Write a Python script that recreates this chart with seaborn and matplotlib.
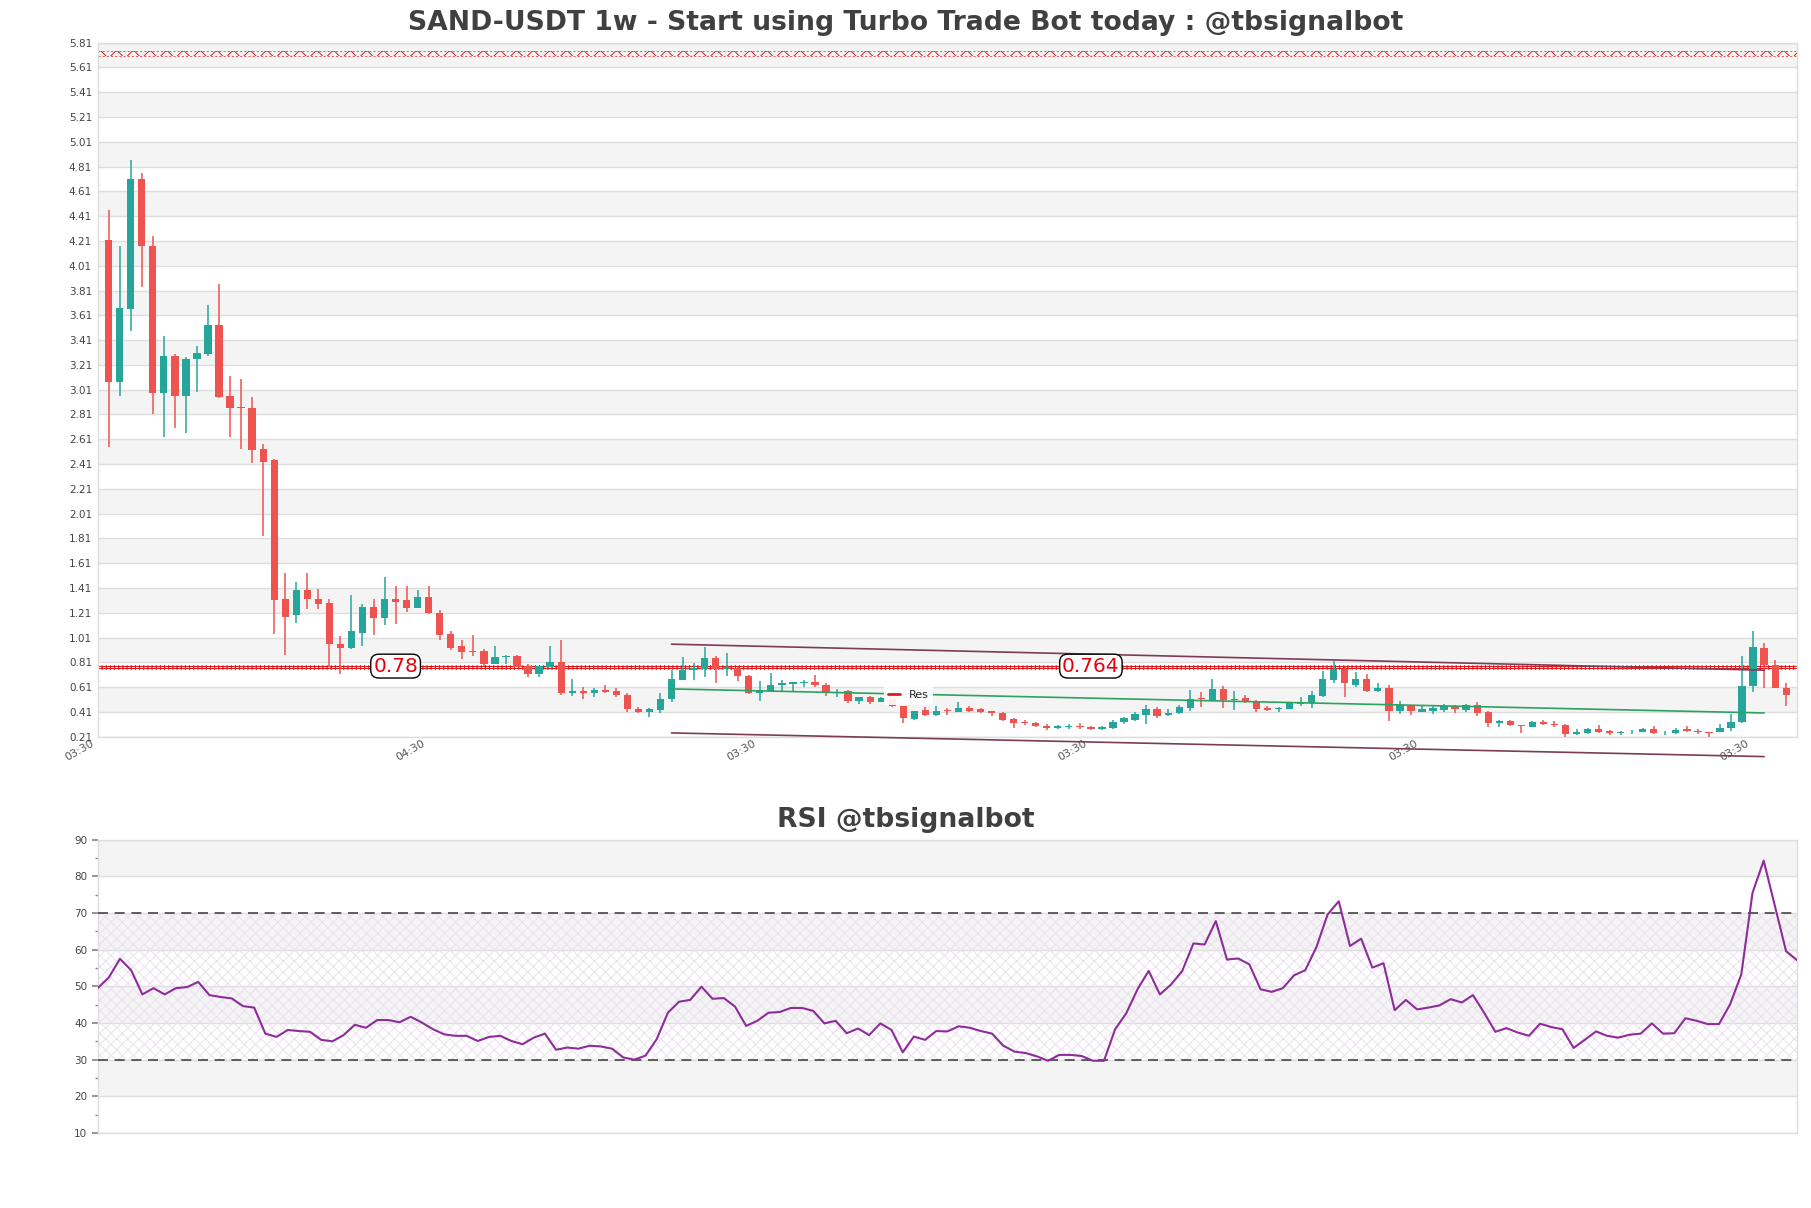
import matplotlib
matplotlib.use("Agg")
import numpy as np
import pandas as pd
import seaborn as sns
import matplotlib.pyplot as plt
import matplotlib.transforms as mtransforms
from matplotlib.lines import Line2D

# ---------------- data ----------------
opens = [4.22, 3.075, 3.66, 4.71, 4.17, 2.98, 3.28, 2.96, 3.26, 3.30,
         3.53, 2.96, 2.87, 2.86, 2.53, 2.44, 1.32, 1.19, 1.39, 1.32,
         1.29, 0.96, 0.93, 1.05, 1.26, 1.17, 1.32, 1.31, 1.25, 1.34,
         1.21, 1.04, 0.94, 0.90, 0.90, 0.80, 0.85, 0.86, 0.78, 0.72,
         0.77, 0.81, 0.564, 0.583, 0.564, 0.59, 0.583, 0.55, 0.437, 0.41,
         0.427, 0.515, 0.671, 0.749, 0.757, 0.846, 0.757, 0.765, 0.703, 0.564,
         0.577, 0.63, 0.636, 0.644, 0.655, 0.63, 0.564, 0.583, 0.502, 0.534,
         0.488, 0.52, 0.461, 0.354, 0.427, 0.389, 0.427, 0.413, 0.44, 0.432,
         0.416, 0.402, 0.354, 0.327, 0.319, 0.30, 0.282, 0.292, 0.30, 0.292,
         0.273, 0.279, 0.33, 0.349, 0.389, 0.435, 0.384, 0.40, 0.443, 0.523,
         0.51, 0.599, 0.51, 0.52, 0.502, 0.443, 0.435, 0.435, 0.475, 0.48,
         0.542, 0.671, 0.757, 0.628, 0.677, 0.582, 0.604, 0.421, 0.461, 0.413,
         0.421, 0.427, 0.456, 0.427, 0.47, 0.408, 0.322, 0.335, 0.308, 0.292,
         0.332, 0.313, 0.308, 0.233, 0.241, 0.27, 0.254, 0.241, 0.246, 0.252,
         0.273, 0.246, 0.241, 0.273, 0.26, 0.252, 0.246, 0.279, 0.327, 0.617,
         0.926, 0.789, 0.604]
highs = [4.46, 4.17, 4.86, 4.76, 4.25, 3.44, 3.30, 3.27, 3.36, 3.69,
         3.86, 3.12, 3.10, 2.95, 2.57, 2.45, 1.53, 1.46, 1.53, 1.40,
         1.32, 1.02, 1.35, 1.28, 1.32, 1.50, 1.43, 1.43, 1.39, 1.43,
         1.23, 1.06, 0.99, 1.03, 0.92, 0.94, 0.87, 0.87, 0.80, 0.78,
         0.94, 0.99, 0.677, 0.61, 0.60, 0.63, 0.60, 0.561, 0.453, 0.443,
         0.561, 0.75, 0.851, 0.806, 0.937, 0.859, 0.889, 0.77, 0.71, 0.663,
         0.725, 0.671, 0.652, 0.671, 0.709, 0.64, 0.596, 0.59, 0.534, 0.54,
         0.53, 0.53, 0.461, 0.421, 0.448, 0.461, 0.44, 0.488, 0.461, 0.44,
         0.421, 0.408, 0.36, 0.349, 0.327, 0.314, 0.306, 0.314, 0.322, 0.298,
         0.30, 0.346, 0.367, 0.408, 0.467, 0.453, 0.435, 0.467, 0.59, 0.569,
         0.677, 0.623, 0.582, 0.55, 0.507, 0.461, 0.448, 0.488, 0.529, 0.582,
         0.744, 0.824, 0.77, 0.736, 0.717, 0.644, 0.628, 0.502, 0.467, 0.467,
         0.461, 0.475, 0.47, 0.475, 0.488, 0.416, 0.346, 0.346, 0.308, 0.341,
         0.348, 0.335, 0.313, 0.273, 0.279, 0.305, 0.265, 0.26, 0.268, 0.281,
         0.30, 0.26, 0.279, 0.295, 0.273, 0.252, 0.313, 0.39, 0.864, 1.066,
         0.967, 0.83, 0.641]
lows = [2.55, 2.96, 3.48, 3.84, 2.81, 2.63, 2.70, 2.66, 2.99, 3.28,
        2.94, 2.63, 2.53, 2.42, 1.83, 1.04, 0.87, 1.13, 1.24, 1.24,
        0.77, 0.72, 0.92, 0.94, 1.03, 1.11, 1.12, 1.22, 1.25, 1.20,
        0.99, 0.91, 0.84, 0.86, 0.78, 0.80, 0.80, 0.77, 0.69, 0.69,
        0.77, 0.55, 0.537, 0.513, 0.53, 0.564, 0.53, 0.408, 0.40, 0.367,
        0.40, 0.488, 0.669, 0.671, 0.69, 0.642, 0.70, 0.663, 0.556, 0.496,
        0.569, 0.569, 0.582, 0.61, 0.61, 0.537, 0.534, 0.48, 0.475, 0.475,
        0.488, 0.45, 0.322, 0.349, 0.375, 0.375, 0.389, 0.408, 0.413, 0.402,
        0.381, 0.341, 0.279, 0.306, 0.292, 0.268, 0.276, 0.276, 0.276, 0.268,
        0.265, 0.271, 0.314, 0.341, 0.314, 0.359, 0.381, 0.392, 0.421, 0.448,
        0.502, 0.44, 0.427, 0.48, 0.408, 0.421, 0.408, 0.435, 0.461, 0.44,
        0.529, 0.642, 0.534, 0.61, 0.574, 0.574, 0.341, 0.394, 0.389, 0.408,
        0.394, 0.413, 0.402, 0.413, 0.375, 0.287, 0.292, 0.30, 0.238, 0.287,
        0.308, 0.287, 0.206, 0.225, 0.233, 0.241, 0.225, 0.225, 0.233, 0.246,
        0.233, 0.228, 0.233, 0.246, 0.233, 0.211, 0.246, 0.26, 0.319, 0.574,
        0.601, 0.601, 0.461]
closes = [3.075, 3.67, 4.71, 4.17, 2.98, 3.28, 2.96, 3.26, 3.31, 3.53,
          2.95, 2.86, 2.86, 2.52, 2.43, 1.31, 1.18, 1.39, 1.32, 1.28,
          0.96, 0.93, 1.06, 1.26, 1.17, 1.32, 1.30, 1.25, 1.34, 1.21,
          1.03, 0.93, 0.89, 0.89, 0.80, 0.85, 0.86, 0.77, 0.72, 0.78,
          0.81, 0.56, 0.583, 0.564, 0.588, 0.574, 0.548, 0.43, 0.408, 0.43,
          0.515, 0.677, 0.749, 0.763, 0.846, 0.757, 0.77, 0.698, 0.561, 0.583,
          0.63, 0.644, 0.652, 0.65, 0.628, 0.574, 0.572, 0.502, 0.534, 0.488,
          0.523, 0.46, 0.359, 0.421, 0.389, 0.421, 0.416, 0.44, 0.421, 0.408,
          0.402, 0.349, 0.322, 0.319, 0.298, 0.279, 0.30, 0.298, 0.287, 0.273,
          0.287, 0.332, 0.36, 0.394, 0.435, 0.381, 0.402, 0.448, 0.515, 0.512,
          0.599, 0.51, 0.515, 0.494, 0.437, 0.427, 0.443, 0.483, 0.488, 0.55,
          0.677, 0.757, 0.642, 0.677, 0.582, 0.604, 0.421, 0.467, 0.416, 0.435,
          0.443, 0.461, 0.432, 0.47, 0.40, 0.322, 0.335, 0.306, 0.298, 0.332,
          0.313, 0.305, 0.233, 0.252, 0.27, 0.246, 0.241, 0.252, 0.252, 0.276,
          0.238, 0.25, 0.268, 0.254, 0.246, 0.244, 0.284, 0.332, 0.622, 0.937,
          0.79, 0.601, 0.55]
rsi = [49.5, 52.4, 57.5, 54.4, 47.8, 49.5, 47.8, 49.5, 49.8, 51.2,
       47.6, 47.1, 46.7, 44.6, 44.2, 37.1, 36.2, 38.1, 37.8, 37.6,
       35.4, 35.0, 36.7, 39.5, 38.7, 40.8, 40.8, 40.2, 41.7, 40.1,
       38.3, 36.9, 36.5, 36.5, 35.1, 36.2, 36.5, 35.1, 34.2, 36.0,
       37.1, 32.7, 33.3, 33.0, 33.8, 33.6, 33.0, 30.6, 30.0, 31.1,
       35.6, 42.8, 45.8, 46.3, 49.9, 46.6, 46.8, 44.5, 39.2, 40.6,
       42.8, 43.0, 44.1, 44.1, 43.3, 39.9, 40.6, 37.2, 38.5, 36.7,
       39.9, 38.1, 32.0, 36.3, 35.4, 37.8, 37.7, 39.1, 38.7, 37.8,
       37.1, 33.8, 32.2, 31.8, 30.9, 29.7, 31.3, 31.3, 31.0, 29.7,
       29.7, 38.3, 42.7, 49.2, 54.2, 47.8, 50.5, 54.2, 61.7, 61.4,
       67.8, 57.3, 57.6, 56.0, 49.2, 48.5, 49.5, 53.0, 54.4, 60.7,
       69.6, 73.2, 61.0, 63.0, 55.1, 56.3, 43.5, 46.3, 43.7, 44.2,
       44.8, 46.5, 45.6, 47.6, 42.8, 37.6, 38.6, 37.4, 36.5, 39.8,
       38.9, 38.3, 33.2, 35.4, 37.7, 36.5, 36.0, 36.8, 37.1, 39.9,
       37.1, 37.2, 41.3, 40.6, 39.7, 39.7, 45.1, 53.3, 75.5, 84.3,
       71.9, 59.6, 57.1]

price_ticks = [0.21, 0.41, 0.61, 0.81, 1.01, 1.21, 1.41, 1.61, 1.81, 2.01, 2.21,
               2.41, 2.61, 2.81, 3.01, 3.21, 3.41, 3.61, 3.81, 4.01, 4.21, 4.41,
               4.61, 4.81, 5.01, 5.21, 5.41, 5.61, 5.81]
x_tick_pos = [-1, 29, 59, 89, 119, 149]
x_tick_labels = ["03:30", "04:30", "03:30", "03:30", "03:30", "03:30"]
rsi_ticks = [10, 20, 30, 40, 50, 60, 70, 80, 90]

res_top = 5.722
res_levels = [0.78, 0.764]
res_labels = ["0.78", "0.764"]
res_label_pos = [26, 89]
chan_x = [51, 150]
chan_upper = [0.957, 0.747]
chan_lower = [0.241, 0.050]
chan_mid = [0.596, 0.402]

title = "SAND-USDT 1w - Start using Turbo Trade Bot today : @tbsignalbot"
rsi_title = "RSI @tbsignalbot"

# ---------------- style ----------------
sns.set_theme(style="white")
plt.rcParams["font.family"] = ["DejaVu Sans"]
plt.rcParams["hatch.linewidth"] = 0.7

GREEN = "#26a69a"
RED = "#ef5350"
BAND = "#f4f4f4"
GRID = "#dedede"
TXT = "#444444"

df = pd.DataFrame({"open": opens, "high": highs, "low": lows, "close": closes})
df["x"] = np.arange(len(df))
df["up"] = df["close"] >= df["open"]
df["color"] = np.where(df["up"], GREEN, RED)
df["bottom"] = df[["open", "close"]].min(axis=1)
df["height"] = (df["close"] - df["open"]).abs().clip(lower=0.005)
N = len(df)

fig = plt.figure(figsize=(18.11, 12.08), dpi=100)
ax = fig.add_axes([0.0539, 0.3901, 0.9385, 0.5746])
ax2 = fig.add_axes([0.0539, 0.0621, 0.9385, 0.2428])

# ---- price panel ----
ax.set_xlim(-1, N)
ax.set_ylim(0.21, 5.81)
for lo in np.arange(0.41, 5.8, 0.4):
    ax.axhspan(lo, lo + 0.2, color=BAND, zorder=0, lw=0)
ax.set_yticks(price_ticks)
ax.set_yticklabels([f"{t:.2f}" for t in price_ticks])
ax.yaxis.grid(True, color=GRID, lw=1, zorder=0.5)
ax.xaxis.grid(False)

ax.vlines(df["x"], df["low"], df["high"], colors=df["color"], lw=1.1, zorder=3)
ax.bar(df["x"], df["height"], bottom=df["bottom"], width=0.66,
       color=df["color"], lw=0, zorder=4)

# resistance bands
xr = [-1, N]
ax.fill_between(xr, res_top - 0.022, res_top + 0.022, facecolor="none",
                edgecolor="#e31a1c", hatch="xx", lw=0, zorder=2)
ax.axhline(res_top + 0.02, color="#e31a1c", lw=0.5, ls=(0, (3, 3)), zorder=2)
ax.axhline(res_top - 0.02, color="#e31a1c", lw=0.5, ls=(0, (3, 3)), zorder=2)
for lv in res_levels:
    ax.fill_between(xr, lv - 0.012, lv + 0.012, facecolor="none",
                    edgecolor="#e31a1c", hatch="||||", lw=0, zorder=2)
    ax.axhline(lv, color="#e31a1c", lw=0.8, zorder=2)
for lab, xp, lv in zip(res_labels, res_label_pos, res_levels):
    ax.text(xp, 0.78, lab, color="#e8000b", fontsize=14.5, ha="center", va="center",
            zorder=6, bbox=dict(boxstyle="round,pad=0.12,rounding_size=0.4",
                                 fc="white", ec="black", lw=1))

# channel
ax.plot(chan_x, chan_upper, color="#7e3b58", lw=1.2, zorder=5)
ax.plot(chan_x, chan_lower, color="#7e3b58", lw=1.2, zorder=5, clip_on=False)
ax.plot(chan_x, chan_mid, color="#2ca25f", lw=1.2, zorder=5)

leg = ax.legend(handles=[Line2D([0], [0], color="#e31a1c", lw=2)], labels=["Res"],
                loc="center", bbox_to_anchor=(0.477, 0.06), fontsize=8,
                frameon=True, framealpha=0.9, edgecolor="none", handlelength=1.0)
leg.set_zorder(7)

ax.set_xticks(x_tick_pos)
ax.set_xticklabels(x_tick_labels, rotation=30, ha="right", rotation_mode="anchor",
                   fontsize=8, color="#555555")
ax.tick_params(axis="y", labelsize=7.5, labelcolor=TXT, length=0, pad=4)
ax.tick_params(axis="x", length=0, pad=1)
shift = mtransforms.ScaledTranslation(-7 / 100, 0, fig.dpi_scale_trans)
for lbl in ax.get_xticklabels():
    lbl.set_transform(lbl.get_transform() + shift)
for s in ax.spines.values():
    s.set_color("#dddddd")
    s.set_linewidth(1)

# ---- RSI panel ----
ax2.set_xlim(0, N - 1)
ax2.set_ylim(10, 90)
for lo in [20, 40, 60, 80]:
    ax2.axhspan(lo, lo + 10, color=BAND, zorder=0, lw=0)
ax2.fill_between([0, N - 1], 30, 70, facecolor="none", edgecolor="#ebe0ef",
                 hatch="xxx", lw=0, zorder=0.6)
ax2.yaxis.grid(True, color=GRID, lw=1, zorder=0.5)
ax2.set_yticks(rsi_ticks)
ax2.set_yticks(np.arange(15, 90, 10), minor=True)
ax2.axhline(70, color="#444444", lw=1.2, ls=(0, (6, 4)), zorder=3)
ax2.axhline(30, color="#444444", lw=1.2, ls=(0, (6, 4)), zorder=3)
sns.lineplot(x=np.arange(N), y=rsi, ax=ax2, color="#8e2c9b", lw=1.5, zorder=4)
ax2.set_xticks([])
ax2.tick_params(axis="y", which="major", labelsize=7.5, labelcolor=TXT, length=4,
                color="#888888", left=True)
ax2.tick_params(axis="y", which="minor", length=2, color="#888888", left=True)
for s in ax2.spines.values():
    s.set_color("#dddddd")
    s.set_linewidth(1)

fig.text(0.5, 0.981, title, ha="center", va="center", fontsize=19.2,
         fontweight="bold", color="#404040")
fig.text(0.5, 0.321, rsi_title, ha="center", va="center", fontsize=19.2,
         fontweight="bold", color="#404040")

fig.savefig("out.png", dpi=100)
